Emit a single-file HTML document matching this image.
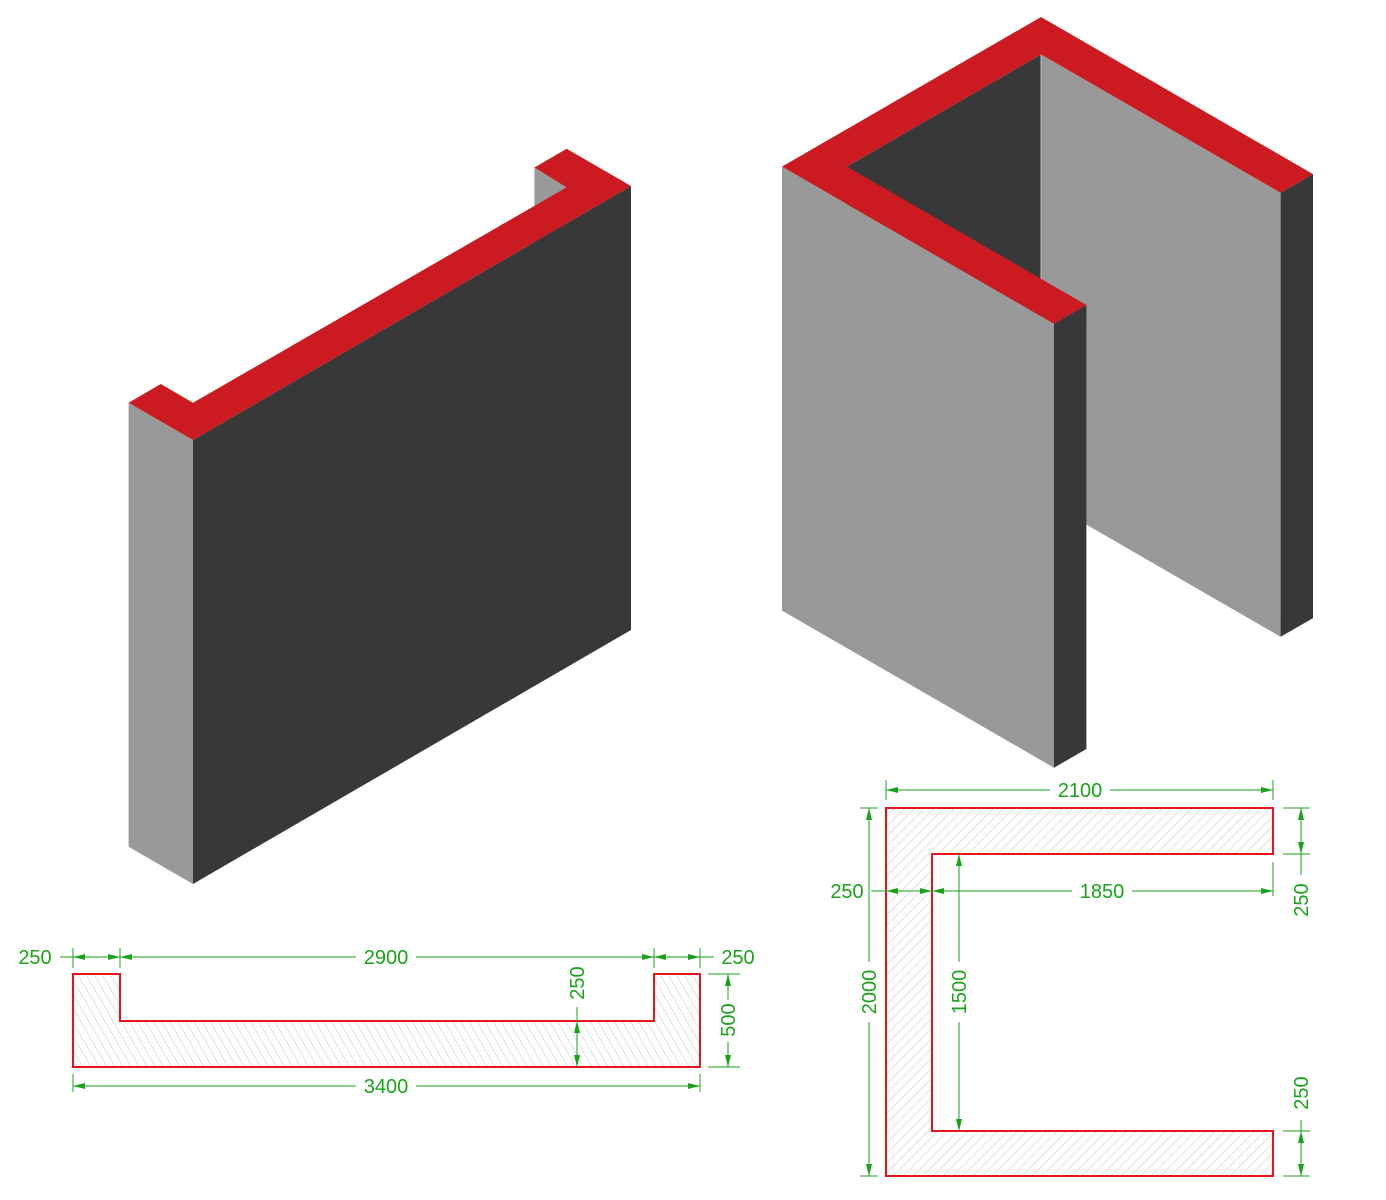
<!DOCTYPE html>
<html><head><meta charset="utf-8"><style>html,body{margin:0;padding:0;background:#fff}svg{display:block}</style></head>
<body>
<svg width="1386" height="1200" viewBox="0 0 1386 1200" xmlns="http://www.w3.org/2000/svg">
<defs>
<pattern id="hb" patternUnits="userSpaceOnUse" width="7" height="7" patternTransform="rotate(-30)">
<line x1="0" y1="0" x2="0" y2="7" stroke="#b8b8b8" stroke-width="0.8"/></pattern>
<pattern id="hf" patternUnits="userSpaceOnUse" width="7" height="7" patternTransform="rotate(45)">
<line x1="0" y1="0" x2="0" y2="7" stroke="#b8b8b8" stroke-width="0.8"/></pattern>
</defs>
<!-- left iso -->
<polygon points="534.4,167.5 566.5,187.4 566.5,631.4 534.4,611.5" fill="#999"/>
<polygon points="128.6,402.8 193,440 193,884 128.6,846.8" fill="#999"/>
<polygon points="193,440 631,186 631,630 193,884" fill="#383838"/>
<polygon points="193,440 128.6,402.8 160.8,384 193,402.8 566.5,187.4 534.4,167.5 566.6,148.8 631,186" fill="#cc1b20"/>
<!-- right iso -->
<polygon points="1041,54.4 846.8,166.6 846.8,610.6 1041,498.4" fill="#383838"/>
<polygon points="1041,54.4 1280.6,192.8 1280.6,636.8 1041,498.4" fill="#999"/>
<line x1="1041" y1="54" x2="1041" y2="498" stroke="#bbb" stroke-width="1"/>
<polygon points="1280.6,192.8 1313,174.1 1313,618.1 1280.6,636.8" fill="#383838"/>
<polygon points="782,166.6 1054,323.7 1054,767.7 782,610.6" fill="#999"/>
<polygon points="1054,323.7 1086.4,305 1086.4,749 1054,767.7" fill="#383838"/>
<polygon points="1041,17 1313,174.1 1280.6,192.8 1041,54.4 846.8,166.6 1086.4,305 1054,323.7 782,166.6" fill="#cc1b20"/>
<!-- left plan -->
<polygon points="73,974 120,974 120,1021 654,1021 654,974 700,974 700,1067 73,1067" fill="url(#hb)" stroke="#e8141c" stroke-width="2"/>
<g stroke="#1aa31a" stroke-width="1" fill="none">
<line x1="73" y1="948" x2="73" y2="968"/><line x1="120" y1="948" x2="120" y2="968"/>
<line x1="654" y1="948" x2="654" y2="968"/><line x1="700" y1="948" x2="700" y2="968"/>
<line x1="60" y1="957" x2="120" y2="957"/><line x1="120" y1="957" x2="356" y2="957"/><line x1="416" y1="957" x2="654" y2="957"/><line x1="654" y1="957" x2="714" y2="957"/>
<line x1="73" y1="1074" x2="73" y2="1092"/><line x1="700" y1="1074" x2="700" y2="1092"/>
<line x1="73" y1="1086" x2="356" y2="1086"/><line x1="416" y1="1086" x2="700" y2="1086"/>
<line x1="708" y1="974" x2="740" y2="974"/><line x1="708" y1="1067" x2="740" y2="1067"/>
<line x1="728" y1="974" x2="728" y2="1000"/><line x1="728" y1="1042" x2="728" y2="1067"/>
<line x1="577" y1="1007" x2="577" y2="1067"/>
</g>
<g fill="#1aa31a">
<polygon points="73,957 85,954 85,960"/><polygon points="120,957 108,954 108,960"/>
<polygon points="120,957 132,954 132,960"/><polygon points="654,957 642,954 642,960"/>
<polygon points="654,957 666,954 666,960"/><polygon points="700,957 688,954 688,960"/>
<polygon points="73,1086 85,1083 85,1089"/><polygon points="700,1086 688,1083 688,1089"/>
<polygon points="728,974 725,986 731,986"/><polygon points="728,1067 725,1055 731,1055"/>
<polygon points="577,1021 574,1033 580,1033"/><polygon points="577,1067 574,1055 580,1055"/>
</g>
<g fill="#1aa31a" font-family="Liberation Sans, Arial, sans-serif" font-size="20" text-anchor="middle">
<text x="35" y="964">250</text><text x="386" y="964">2900</text><text x="738" y="964">250</text>
<text x="386" y="1093">3400</text>
<text transform="translate(735,1020) rotate(-90)">500</text>
<text transform="translate(584,983) rotate(-90)">250</text>
</g>
<!-- right plan -->
<polygon points="886,808 1273,808 1273,854 932,854 932,1131 1273,1131 1273,1176 886,1176" fill="url(#hf)" stroke="#e8141c" stroke-width="2"/>
<g stroke="#1aa31a" stroke-width="1" fill="none">
<line x1="886" y1="780" x2="886" y2="800"/><line x1="1273" y1="780" x2="1273" y2="800"/>
<line x1="886" y1="790" x2="1050" y2="790"/><line x1="1110" y1="790" x2="1273" y2="790"/>
<line x1="1273" y1="862" x2="1273" y2="896"/>
<line x1="871" y1="891" x2="1072" y2="891"/><line x1="1132" y1="891" x2="1273" y2="891"/>
<line x1="860" y1="808" x2="878" y2="808"/><line x1="860" y1="1176" x2="878" y2="1176"/>
<line x1="869" y1="808" x2="869" y2="962"/><line x1="869" y1="1022" x2="869" y2="1176"/>
<line x1="959" y1="854" x2="959" y2="962"/><line x1="959" y1="1022" x2="959" y2="1131"/>
<line x1="1283" y1="808" x2="1310" y2="808"/><line x1="1283" y1="854" x2="1310" y2="854"/>
<line x1="1283" y1="1131" x2="1310" y2="1131"/><line x1="1283" y1="1176" x2="1310" y2="1176"/>
<line x1="1301" y1="808" x2="1301" y2="862"/><line x1="1301" y1="862" x2="1301" y2="875"/>
<line x1="1301" y1="1120" x2="1301" y2="1176"/>
</g>
<g fill="#1aa31a">
<polygon points="886,790 898,787 898,793"/><polygon points="1273,790 1261,787 1261,793"/>
<polygon points="886,891 898,888 898,894"/><polygon points="932,891 920,888 920,894"/>
<polygon points="932,891 944,888 944,894"/><polygon points="1273,891 1261,888 1261,894"/>
<polygon points="869,808 866,820 872,820"/><polygon points="869,1176 866,1164 872,1164"/>
<polygon points="959,854 956,866 962,866"/><polygon points="959,1131 956,1119 962,1119"/>
<polygon points="1301,808 1298,820 1304,820"/><polygon points="1301,854 1298,842 1304,842"/>
<polygon points="1301,1131 1298,1143 1304,1143"/><polygon points="1301,1176 1298,1164 1304,1164"/>
</g>
<g fill="#1aa31a" font-family="Liberation Sans, Arial, sans-serif" font-size="20" text-anchor="middle">
<text x="1080" y="797">2100</text><text x="1102" y="898">1850</text><text x="847" y="898">250</text>
<text transform="translate(876,992) rotate(-90)">2000</text>
<text transform="translate(966,992) rotate(-90)">1500</text>
<text transform="translate(1308,900) rotate(-90)">250</text>
<text transform="translate(1308,1093) rotate(-90)">250</text>
</g>
</svg>
</body></html>
